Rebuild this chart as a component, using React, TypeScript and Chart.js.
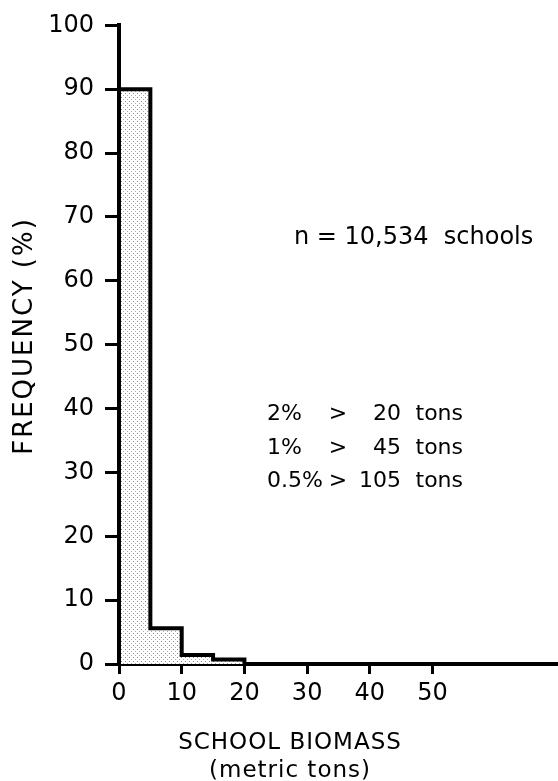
import React, { useEffect, useRef } from "react";
import { Chart, registerables } from "chart.js";

Chart.register(...registerables);

const binStarts = [0, 0, 5, 10, 15, 20, 70];
const frequencies = [0, 90, 5.6, 1.4, 0.7, 0, 0];
const xTickValues = [0, 10, 20, 30, 40, 50];
const yTickMax = 100;
const sampleNote = "n = 10,534  schools";
const tailLines = [
  ["2%", ">", "20", "tons"],
  ["1%", ">", "45", "tons"],
  ["0.5%", ">", "105", "tons"],
];
const xTitle = ["SCHOOL BIOMASS", "(metric tons)"];
const yTitle = "FREQUENCY (%)";

const FONT = "'DejaVu Sans', sans-serif";

function makePattern(): CanvasPattern | string {
  const c = document.createElement("canvas");
  c.width = 4;
  c.height = 4;
  const g = c.getContext("2d");
  if (!g) return "#ddd";
  g.fillStyle = "#fff";
  g.fillRect(0, 0, 4, 4);
  g.fillStyle = "#888";
  g.fillRect(1, 1, 1, 1);
  g.fillStyle = "#aaa";
  g.fillRect(3, 3, 1, 1);
  const p = g.createPattern(c, "repeat");
  return p || "#ddd";
}

const textPlugin = {
  id: "texts",
  afterDraw(chart: any) {
    const ctx = chart.ctx as CanvasRenderingContext2D;
    ctx.save();
    ctx.fillStyle = "#000";
    ctx.textBaseline = "middle";
    ctx.font = `24px ${FONT}`;
    ctx.textAlign = "left";
    ctx.fillText(sampleNote, 294, 238);

    ctx.font = `22px ${FONT}`;
    const ys = [414, 448, 481];
    tailLines.forEach((parts, i) => {
      const y = ys[i];
      ctx.textAlign = "left";
      ctx.fillText(parts[0], 267, y);
      ctx.textAlign = "center";
      ctx.fillText(parts[1], 338, y);
      ctx.textAlign = "right";
      ctx.fillText(parts[2], 401, y);
      ctx.fillText(parts[3], 463, y);
    });

    ctx.textAlign = "center";
    ctx.font = `23px ${FONT}`;
    (ctx as any).letterSpacing = "1px";
    ctx.fillText(xTitle[0], 290, 743);
    ctx.fillText(xTitle[1], 290, 771);

    ctx.save();
    ctx.translate(25, 336);
    ctx.rotate(-Math.PI / 2);
    ctx.font = `26px ${FONT}`;
    (ctx as any).letterSpacing = "2px";
    ctx.fillText(yTitle, 0, 0);
    ctx.restore();
    ctx.restore();
  },
};

export default function App() {
  const ref = useRef<HTMLCanvasElement>(null);
  useEffect(() => {
    document.body.style.margin = "0";
    const canvas = ref.current;
    if (!canvas) return;
    const chart = new Chart(canvas, {
      type: "line",
      data: {
        datasets: [
          {
            data: binStarts.map((x, i) => ({ x, y: frequencies[i] })),
            stepped: "before",
            borderColor: "#000",
            borderWidth: 4,
            pointRadius: 0,
            fill: "origin",
            backgroundColor: makePattern() as any,
          },
        ],
      },
      options: {
        animation: false,
        responsive: false,
        maintainAspectRatio: false,
        events: [],
        layout: { padding: { top: 24, right: 0, left: 0, bottom: 0 } },
        plugins: { legend: { display: false }, tooltip: { enabled: false } },
        scales: {
          x: {
            type: "linear",
            min: 0,
            max: 70,
            afterBuildTicks: (s: any) => {
              s.ticks = xTickValues.map((v) => ({ value: v }));
            },
            afterFit: (s: any) => {
              s.height = 781 - 664;
            },
            border: { display: true, color: "#000", width: 4 },
            grid: {
              drawOnChartArea: false,
              drawTicks: true,
              tickLength: 10,
              color: "#000",
              lineWidth: 3,
            },
            ticks: {
              color: "#000",
              font: { family: FONT, size: 24 },
              padding: 5,
              maxRotation: 0,
              autoSkip: false,
            },
          },
          y: {
            min: 0,
            max: yTickMax,
            afterFit: (s: any) => {
              s.width = 119;
            },
            border: { display: true, color: "#000", width: 4 },
            grid: {
              drawOnChartArea: false,
              drawTicks: true,
              tickLength: 14,
              color: "#000",
              lineWidth: 3,
            },
            ticks: {
              stepSize: 10,
              color: "#000",
              font: { family: FONT, size: 24 },
              padding: 11,
            },
          },
        },
      },
      plugins: [textPlugin],
    });
    return () => chart.destroy();
  }, []);
  return (
    <div style={{ width: 558, height: 781 }}>
      <canvas ref={ref} width={558} height={781} style={{ display: "block" }} />
    </div>
  );
}
